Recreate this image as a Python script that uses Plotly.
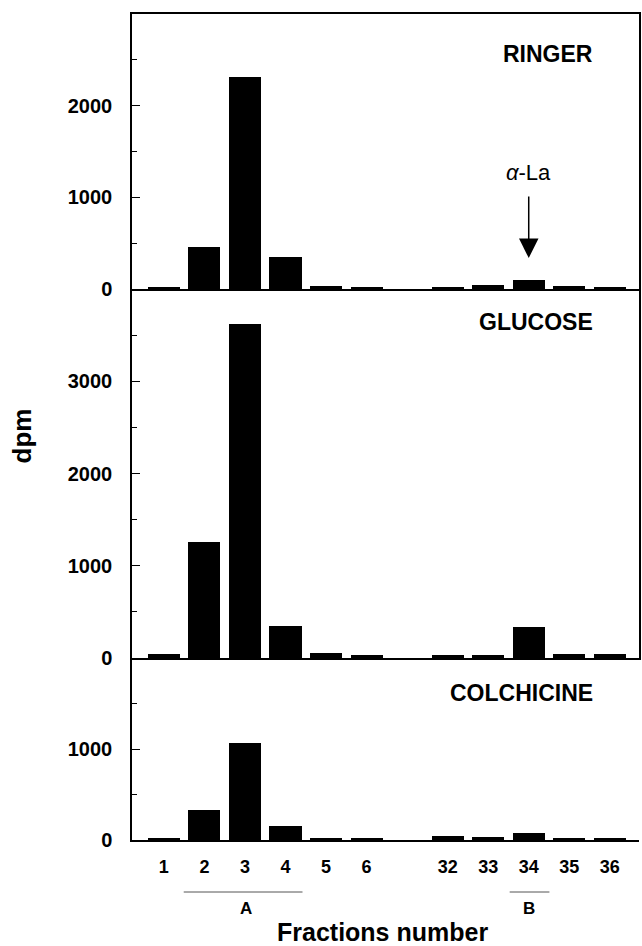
import plotly.graph_objects as go

# ---- data ----
fractions = ["1", "2", "3", "4", "5", "6", "32", "33", "34", "35", "36"]
ringer = [20, 455, 2310, 350, 28, 25, 18, 40, 100, 32, 18]
glucose = [45, 1260, 3620, 345, 55, 30, 28, 35, 335, 48, 38]
colchicine = [18, 335, 1066, 158, 15, 15, 48, 30, 80, 12, 20]
panel_names = ["RINGER", "GLUCOSE", "COLCHICINE"]

# positions: a one-slot gap between fraction 6 and fraction 32
xpos = [i if i < 6 else i + 1 for i in range(len(fractions))]

FONT = "Liberation Sans, Arial, Helvetica, sans-serif"
H, W = 946, 642
ml, mr, mt, mb = 132, 1, 14, 106
plot_h = H - mt - mb

def py(ypx):
    return (H - mb - ypx) / plot_h

def px(xpx):
    return (xpx - ml) / (W - ml - mr)

d_top = [py(289), 1.0]
d_mid = [py(658), py(289)]
d_bot = [0.0, py(658)]

fig = go.Figure()
for vals, xa, ya in [(ringer, "x", "y"), (glucose, "x2", "y2"), (colchicine, "x3", "y3")]:
    fig.add_trace(go.Bar(x=xpos, y=vals, xaxis=xa, yaxis=ya, width=0.79,
                         marker=dict(color="black", line=dict(width=0)),
                         showlegend=False, hoverinfo="x+y"))

xrange = [-0.786, 11.72]
tickfont = dict(family=FONT, size=20, color="black", weight="bold")

def yax(domain, rng, major, minor, anchor, mirror):
    return dict(domain=domain, range=rng, anchor=anchor, showgrid=False, zeroline=False,
                showline=True, linecolor="black", linewidth=1.5, mirror=mirror,
                tickmode="array", tickvals=major, ticktext=[str(v) for v in major],
                ticks="inside", ticklen=8, tickwidth=1, tickcolor="black",
                minor=dict(tickmode="array", tickvals=minor, ticks="inside", ticklen=5,
                           tickwidth=1, tickcolor="black", showgrid=False),
                tickfont=tickfont, ticklabelstandoff=14, fixedrange=True)

def xax(anchor, mirror, labels):
    d = dict(domain=[0, 1], range=xrange, anchor=anchor, showgrid=False, zeroline=False,
             showline=True, linecolor="black", linewidth=2, mirror=mirror, ticks="",
             fixedrange=True)
    if labels:
        d.update(tickmode="array", tickvals=xpos, ticktext=fractions,
                 tickfont=dict(family=FONT, size=18, color="black", weight="bold"),
                 ticklabelstandoff=9)
    else:
        d.update(showticklabels=False)
    return d

fig.update_layout(
    width=W, height=H,
    margin=dict(l=ml, r=mr, t=mt, b=mb),
    paper_bgcolor="white", plot_bgcolor="white",
    bargap=0,
    xaxis=xax("y", True, False),
    xaxis2=xax("y2", False, False),
    xaxis3=xax("y3", False, True),
    yaxis=yax(d_top, [0, 3000], [0, 1000, 2000], [500, 1500, 2500], "x", True),
    yaxis2=yax(d_mid, [0, 4000], [0, 1000, 2000, 3000], [500, 1500, 2500, 3500], "x2", True),
    yaxis3=yax(d_bot, [0, 2000], [0, 1000], [500, 1500], "x3", False),
)

title_font = dict(family=FONT, size=23, color="black", weight="bold")
ann = []
for name, ypx in zip(panel_names, [54, 322, 693]):
    ann.append(dict(text=name, x=px(597), y=py(ypx), xref="paper", yref="paper",
                    xanchor="right", yanchor="middle", showarrow=False, font=title_font))

# alpha-La label + arrow (top panel, fraction 34)
ann.append(dict(text="<i>α</i>-La", x=xpos[8], y=1276, xref="x", yref="y",
                showarrow=False, xanchor="center", yanchor="middle",
                font=dict(family=FONT, size=22, color="black")))
ann.append(dict(x=xpos[8], y=338, ax=xpos[8], ay=1025, xref="x", yref="y",
                axref="x", ayref="y", text="", showarrow=True, arrowhead=2,
                arrowsize=2.6, arrowwidth=1.5, arrowcolor="black"))

# A / B group labels
ab_font = dict(family=FONT, size=17, color="black", weight="bold")
ann.append(dict(text="A", x=2.02, y=py(908), xref="x3", yref="paper", showarrow=False,
                yanchor="middle", font=ab_font))
ann.append(dict(text="B", x=xpos[8], y=py(908), xref="x3", yref="paper", showarrow=False,
                yanchor="middle", font=ab_font))

# axis titles
ann.append(dict(text="Fractions number", x=px(383), y=py(932), xref="paper", yref="paper",
                showarrow=False, xanchor="center", yanchor="middle",
                font=dict(family=FONT, size=25, color="black", weight="bold")))
ann.append(dict(text="dpm", x=px(22), y=py(436), xref="paper", yref="paper",
                showarrow=False, textangle=-90, xanchor="center", yanchor="middle",
                font=dict(family=FONT, size=26, color="black", weight="bold")))
fig.update_layout(annotations=ann)

shapes = [
    dict(type="line", xref="x3", yref="paper", x0=0.49, x1=3.42, y0=py(892), y1=py(892),
         line=dict(color="#555555", width=1)),
    dict(type="line", xref="x3", yref="paper", x0=8.53, x1=9.51, y0=py(892), y1=py(892),
         line=dict(color="#555555", width=1)),
]
fig.update_layout(shapes=shapes)

fig.write_html("out.html", config={"displayModeBar": False},
               post_script="document.body.style.margin='0';")
